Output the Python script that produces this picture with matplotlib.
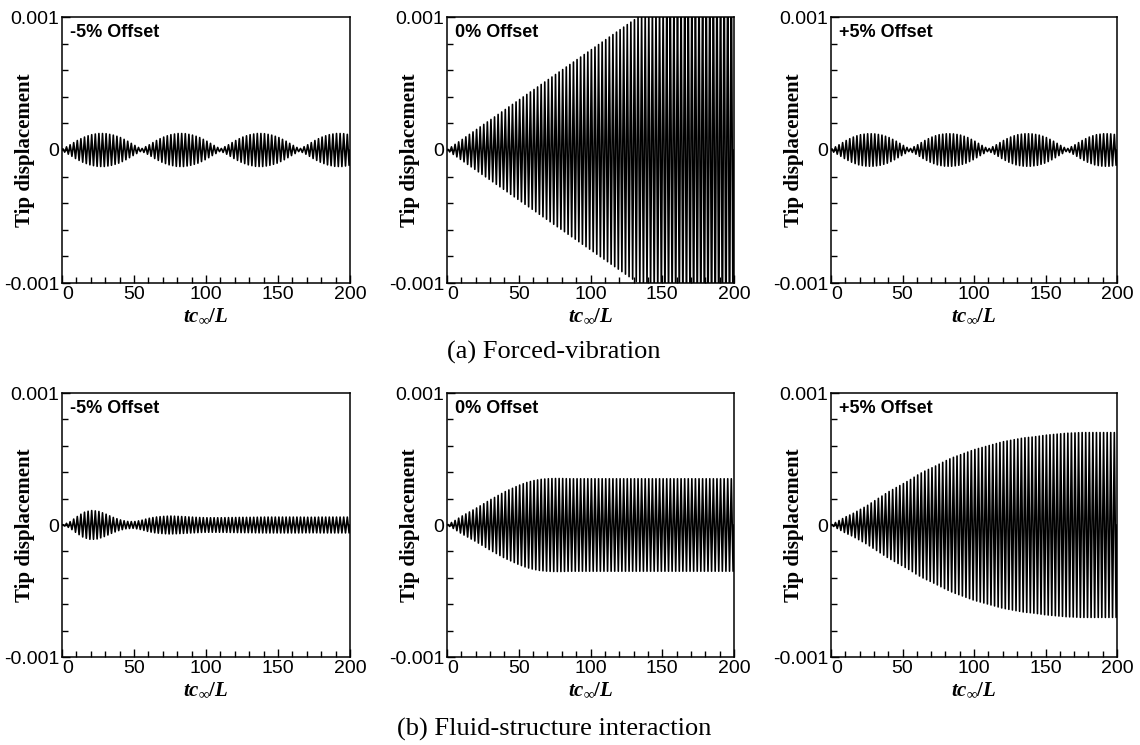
import matplotlib as mpl
mpl.use('Agg')
import matplotlib.pyplot as plt
import numpy as np

# envelope of tip displacement, in units of 1e-4,
# at t = 0, 5, 10, ... 200 (tc_inf/L)
env_t = np.arange(0, 201, 5)

forced_m5 = [0.05, 0.35, 0.68, 0.95, 1.14, 1.24, 1.24, 1.14, 0.97, 0.70, 0.38,
             0.08, 0.35, 0.68, 0.95, 1.14, 1.24, 1.24, 1.14, 0.97, 0.70, 0.38,
             0.08, 0.35, 0.68, 0.95, 1.14, 1.24, 1.24, 1.14, 0.97, 0.70, 0.38,
             0.08, 0.35, 0.68, 0.95, 1.14, 1.24, 1.24, 1.14]
forced_0 = [0.0, 0.38, 0.75, 1.13, 1.5, 1.88, 2.25, 2.63, 3.0, 3.38, 3.75,
            4.13, 4.5, 4.88, 5.25, 5.63, 6.0, 6.38, 6.75, 7.13, 7.5,
            7.88, 8.25, 8.63, 9.0, 9.38, 9.75, 10.1, 10.5, 10.9, 11.3,
            11.6, 12.0, 12.4, 12.8, 13.1, 13.5, 13.9, 14.3, 14.6, 15.0]
forced_p5 = [0.05, 0.35, 0.68, 0.95, 1.14, 1.22, 1.22, 1.14, 0.97, 0.70, 0.38,
             0.08, 0.35, 0.68, 0.95, 1.14, 1.22, 1.22, 1.14, 0.97, 0.70, 0.38,
             0.08, 0.35, 0.68, 0.95, 1.14, 1.22, 1.22, 1.14, 0.97, 0.70, 0.38,
             0.08, 0.35, 0.68, 0.95, 1.14, 1.22, 1.22, 1.14]
fsi_m5 = [0.0, 0.2, 0.6, 0.95, 1.1, 1.05, 0.85, 0.6, 0.4, 0.27, 0.25,
          0.35, 0.5, 0.6, 0.65, 0.68, 0.66, 0.63, 0.6, 0.57, 0.55,
          0.55, 0.55, 0.56, 0.57, 0.58, 0.58, 0.59, 0.6, 0.6, 0.6,
          0.6, 0.6, 0.6, 0.59, 0.59, 0.6, 0.6, 0.6, 0.6, 0.6]
fsi_0 = [0.0, 0.3, 0.65, 0.95, 1.25, 1.57, 1.9, 2.2, 2.5, 2.75, 3.0,
         3.2, 3.35, 3.45, 3.5, 3.52, 3.52, 3.5, 3.5, 3.5, 3.5,
         3.5, 3.5, 3.5, 3.5, 3.5, 3.5, 3.5, 3.5, 3.5, 3.5,
         3.5, 3.5, 3.5, 3.5, 3.5, 3.5, 3.5, 3.5, 3.5, 3.5]
fsi_p5 = [0.0, 0.3, 0.6, 0.85, 1.15, 1.45, 1.8, 2.15, 2.5, 2.8, 3.1,
          3.4, 3.75, 4.05, 4.3, 4.57, 4.85, 5.1, 5.3, 5.5, 5.7,
          5.85, 6.0, 6.15, 6.3, 6.4, 6.5, 6.6, 6.65, 6.72, 6.8,
          6.85, 6.9, 6.95, 6.97, 7.0, 7.0, 7.0, 7.0, 7.0, 7.0]

period = 2.5      # carrier period in tc_inf/L
dt = period / 4   # output sampling step (4 samples per cycle)

panel_titles = ['-5% Offset', '0% Offset', '+5% Offset']
rows = [[forced_m5, forced_0, forced_p5], [fsi_m5, fsi_0, fsi_p5]]
captions = ['(a) Forced-vibration', '(b) Fluid-structure interaction']

plt.rcParams['mathtext.fontset'] = 'custom'
plt.rcParams['mathtext.it'] = 'Liberation Serif:italic:bold'
plt.rcParams['mathtext.rm'] = 'Liberation Serif:bold'
plt.rcParams['mathtext.bf'] = 'Liberation Serif:bold'

fig = plt.figure(figsize=(11.4, 7.45), dpi=100)

lefts = [62, 447, 831]
widths = [288, 287, 286]
row_top = [17, 393]
row_h = [266, 264]

t = np.arange(0, 200 + dt / 2, dt)
carrier = np.sin(2 * np.pi * t / period)

for r in range(2):
    for c in range(3):
        ax = fig.add_axes([lefts[c] / 1140, 1 - (row_top[r] + row_h[r]) / 745,
                           widths[c] / 1140, row_h[r] / 745])
        env = np.interp(t, env_t, rows[r][c]) * 1e-4
        ax.plot(t, env * carrier, color='black', lw=1.2)
        ax.set_xlim(0, 200)
        ax.set_ylim(-0.001, 0.001)
        ax.set_xticks([0, 50, 100, 150, 200])
        ax.set_xticks(np.arange(0, 201, 10), minor=True)
        ax.set_yticks([-0.001, 0, 0.001])
        ax.set_yticklabels(['-0.001', '0', '0.001'])
        ax.set_yticks(np.arange(-0.001, 0.00101, 0.0002), minor=True)
        ax.tick_params(which='both', direction='in', top=False, right=False,
                       labelsize=14, pad=2, width=1)
        ax.tick_params(which='major', length=6)
        ax.tick_params(which='minor', length=4)
        for lab in ax.get_xticklabels() + ax.get_yticklabels():
            lab.set_family('Liberation Sans')
        ax.get_xticklabels()[0].set_horizontalalignment('left')
        for sp in ax.spines.values():
            sp.set_linewidth(1.1)
        ax.text(0.028, 0.94, panel_titles[c], transform=ax.transAxes,
                fontsize=13, fontweight='bold', family='Liberation Sans',
                va='center', ha='left')
        ax.set_ylabel('Tip displacement', family='Liberation Serif',
                      fontweight='bold', fontsize=15)
        ax.yaxis.set_label_coords(-27 / widths[c], 0.5)
        ax.set_xlabel(r'$tc_{\infty}/L$', fontsize=15, labelpad=2)

fig.text(554 / 1140, 1 - 352 / 745, captions[0], family='Liberation Serif',
         fontsize=19, ha='center', va='center')
fig.text(554 / 1140, 1 - 729 / 745, captions[1], family='Liberation Serif',
         fontsize=19, ha='center', va='center')

plt.savefig('out.png', dpi=100)
